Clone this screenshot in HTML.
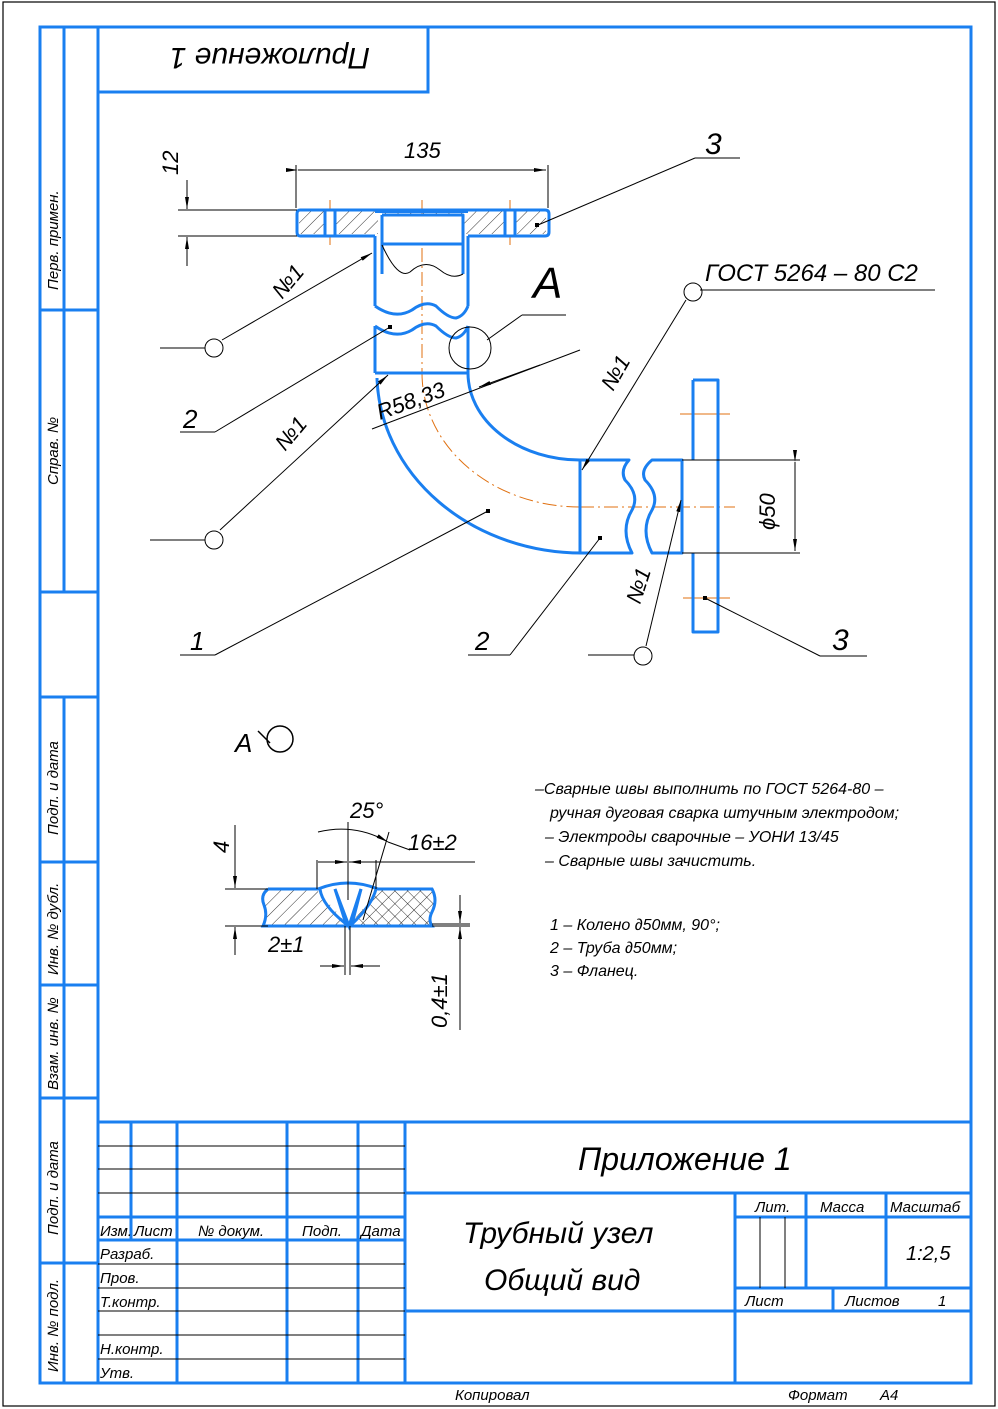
<!DOCTYPE html>
<html><head><meta charset="utf-8"><style>
html,body{margin:0;padding:0;background:#fff;}
svg{display:block;}
text{font-family:"Liberation Sans",sans-serif;font-style:italic;fill:#000;}
</style></head><body>
<svg width="998" height="1409" viewBox="0 0 998 1409" xmlns="http://www.w3.org/2000/svg">
<defs>
<pattern id="h" width="9" height="9" patternUnits="userSpaceOnUse" patternTransform="rotate(45)"><line x1="0" y1="0" x2="0" y2="9" stroke="#000" stroke-width="0.8"/></pattern>
<pattern id="h2" width="9" height="9" patternUnits="userSpaceOnUse" patternTransform="rotate(-45)"><line x1="0" y1="0" x2="0" y2="9" stroke="#000" stroke-width="0.8"/></pattern>
<marker id="ar" viewBox="0 0 12 6" refX="12" refY="3" markerWidth="12" markerHeight="6" orient="auto" markerUnits="userSpaceOnUse"><path d="M0,1 L12,3 L0,5 z" fill="#000"/></marker>
</defs>
<rect x="3" y="2" width="992" height="1404" fill="none" stroke="#000" stroke-width="1.2"/>
<g stroke="#1a7ff0" stroke-width="3" fill="none">
<rect x="40" y="27" width="931" height="1356"/>
<rect x="98" y="27" width="330" height="65"/>
<line x1="98" y1="27" x2="98" y2="1383"/>
<line x1="64" y1="27" x2="64" y2="592"/>
<line x1="40" y1="310" x2="98" y2="310"/>
<line x1="40" y1="592" x2="98" y2="592"/>
<line x1="40" y1="697" x2="98" y2="697"/>
<line x1="64" y1="697" x2="64" y2="1383"/>
<line x1="40" y1="862" x2="98" y2="862"/>
<line x1="40" y1="985" x2="98" y2="985"/>
<line x1="40" y1="1098" x2="98" y2="1098"/>
<line x1="40" y1="1263" x2="98" y2="1263"/>
<line x1="98" y1="1122" x2="971" y2="1122"/>
<line x1="131" y1="1122" x2="131" y2="1240"/>
<line x1="177" y1="1122" x2="177" y2="1383"/>
<line x1="287" y1="1122" x2="287" y2="1383"/>
<line x1="358" y1="1122" x2="358" y2="1383"/>
<line x1="405" y1="1122" x2="405" y2="1383"/>
<line x1="98" y1="1217" x2="405" y2="1217"/>
<line x1="98" y1="1240" x2="405" y2="1240"/>
<line x1="405" y1="1193" x2="971" y2="1193"/>
<line x1="405" y1="1311" x2="971" y2="1311"/>
<line x1="735" y1="1193" x2="735" y2="1383"/>
<line x1="735" y1="1217" x2="971" y2="1217"/>
<line x1="735" y1="1288" x2="971" y2="1288"/>
<line x1="806" y1="1193" x2="806" y2="1288"/>
<line x1="886" y1="1193" x2="886" y2="1288"/>
<line x1="833" y1="1288" x2="833" y2="1311"/>
</g>
<g stroke="#000" stroke-width="1">
<line x1="98" y1="1146" x2="405" y2="1146"/>
<line x1="98" y1="1169" x2="405" y2="1169"/>
<line x1="98" y1="1193" x2="405" y2="1193"/>
<line x1="98" y1="1264" x2="405" y2="1264"/>
<line x1="98" y1="1288" x2="405" y2="1288"/>
<line x1="98" y1="1311" x2="405" y2="1311"/>
<line x1="98" y1="1335" x2="405" y2="1335"/>
<line x1="98" y1="1359" x2="405" y2="1359"/>
<line x1="760" y1="1217" x2="760" y2="1288"/>
<line x1="785" y1="1217" x2="785" y2="1288"/>
</g>
<g font-size="15">
<text x="100" y="1236">Изм.</text><text x="134" y="1236">Лист</text><text x="198" y="1236">№ докум.</text><text x="302" y="1236">Подп.</text><text x="361" y="1236">Дата</text>
<text x="100" y="1259">Разраб.</text><text x="100" y="1283">Пров.</text><text x="100" y="1307">Т.контр.</text>
<text x="100" y="1354">Н.контр.</text><text x="100" y="1378">Утв.</text>
<text x="755" y="1212">Лит.</text><text x="820" y="1212">Масса</text><text x="890" y="1212">Масштаб</text>
<text x="745" y="1306">Лист</text><text x="845" y="1306">Листов</text><text x="938" y="1306">1</text>
<text x="455" y="1400">Копировал</text><text x="788" y="1400">Формат</text><text x="880" y="1400">А4</text>
</g>
<text x="906" y="1260" font-size="20">1:2,5</text>
<text x="578" y="1170" font-size="32">Приложение 1</text>
<text x="463" y="1243" font-size="30">Трубный узел</text>
<text x="484" y="1290" font-size="30">Общий вид</text>
<text x="0" y="0" font-size="30" transform="translate(370,48) rotate(180)">Приложение 1</text>
<g font-size="15">
<text transform="translate(58,290) rotate(-90)">Перв. примен.</text>
<text transform="translate(58,485) rotate(-90)">Справ. №</text>
<text transform="translate(58,835) rotate(-90)">Подп. и дата</text>
<text transform="translate(58,975) rotate(-90)">Инв. № дубл.</text>
<text transform="translate(58,1090) rotate(-90)">Взам. инв. №</text>
<text transform="translate(58,1235) rotate(-90)">Подп. и дата</text>
<text transform="translate(58,1372) rotate(-90)">Инв. № подл.</text>
</g>

<g stroke="#e07010" stroke-width="1" fill="none" stroke-dasharray="14,4,2,4">
<line x1="422" y1="200" x2="422" y2="373"/>
<path d="M422,373 A158,134 0 0 0 580,507"/>
<line x1="580" y1="507" x2="735" y2="507"/>
<line x1="330" y1="200" x2="330" y2="245" stroke-dasharray="none"/>
<line x1="510" y1="200" x2="510" y2="245" stroke-dasharray="none"/>
<line x1="680" y1="414" x2="730" y2="414" stroke-dasharray="none"/>
<line x1="683" y1="598" x2="730" y2="598" stroke-dasharray="none"/>
</g>
<path d="M299,210 H546 V234 H463 V245 H381 V234 H299 Z" fill="url(#h)" stroke="none"/>
<rect x="378" y="215" width="86" height="30" fill="#fff"/>
<rect x="325" y="210" width="10" height="26" fill="#fff"/>
<rect x="505" y="210" width="10" height="26" fill="#fff"/>
<g stroke="#1a7ff0" stroke-width="3" fill="none" stroke-linejoin="round">
<path d="M300,210 H545 Q549,210 549,214 V232 Q549,236 545,236 H468 M375,236 H300 Q297,236 297,232 V214 Q297,210 300,210"/>
<line x1="325" y1="210" x2="325" y2="236"/><line x1="335" y1="210" x2="335" y2="236"/>
<line x1="505" y1="210" x2="505" y2="236"/><line x1="515" y1="210" x2="515" y2="236"/>
<line x1="375" y1="212" x2="468" y2="212" stroke-width="2"/>
<path d="M382,215 H463 V274 M382,215 V274"/>
<line x1="382" y1="244" x2="463" y2="244"/>
<path d="M375,236 V306 M468,236 V306"/>
<path d="M375,306 Q395,320 412,310 Q425,300 436,306 Q448,318 456,318 Q464,316 468,306"/>
<path d="M375,326 V373 M468,326 V373"/>
<path d="M375,326 Q395,340 412,330 Q425,320 436,326 Q448,338 456,338 Q464,336 468,326"/>
<line x1="375" y1="373" x2="468" y2="373"/>
<path d="M377,378 A205,180 0 0 0 582,553"/>
<path d="M468,373 A112,87 0 0 0 580,460"/>
<path d="M580,460 H629 Q620,470 625,480 Q640,495 632,510 Q620,530 632,553 H580 Z"/>
<path d="M682,460 H652 Q640,470 645,480 Q660,495 652,510 Q640,530 652,553 H682 Z"/>
<path d="M693,380 H718 V632 H693 V553 M693,460 V380"/>
</g>
<path d="M382,245 Q398,280 410,272 Q425,258 440,270 Q452,280 463,274" stroke="#000" stroke-width="1" fill="none"/>
<g stroke="#000" stroke-width="1" fill="none">
<line x1="296" y1="165" x2="296" y2="208"/><line x1="548" y1="165" x2="548" y2="208"/>
<line x1="298" y1="170" x2="546" y2="170" marker-start="url(#ar)" marker-end="url(#ar)"/>
<line x1="178" y1="210" x2="297" y2="210"/><line x1="178" y1="236" x2="297" y2="236"/>
<line x1="187" y1="180" x2="187" y2="209" marker-end="url(#ar)"/>
<line x1="187" y1="266" x2="187" y2="237" marker-end="url(#ar)"/>
<line x1="682" y1="460" x2="800" y2="460"/><line x1="682" y1="553" x2="800" y2="553"/>
<line x1="795" y1="462" x2="795" y2="551" marker-start="url(#ar)" marker-end="url(#ar)"/>
<line x1="372" y1="429" x2="580" y2="350"/>
<line x1="540" y1="365" x2="479" y2="387" marker-end="url(#ar)"/>
<line x1="740" y1="158" x2="695" y2="158"/><line x1="695" y1="158" x2="538" y2="225"/>
<line x1="160" y1="348" x2="205" y2="348"/><line x1="222" y1="340" x2="372" y2="253" marker-end="url(#ar)"/>
<line x1="180" y1="432" x2="215" y2="432"/><line x1="215" y1="432" x2="390" y2="327"/>
<line x1="150" y1="540" x2="205" y2="540"/><line x1="220" y1="530" x2="388" y2="375" marker-end="url(#ar)"/>
<line x1="180" y1="655" x2="215" y2="655"/><line x1="215" y1="655" x2="488" y2="511"/>
<line x1="468" y1="655" x2="510" y2="655"/><line x1="510" y1="655" x2="600" y2="538"/>
<line x1="588" y1="655" x2="634" y2="655"/><line x1="646" y1="646" x2="681" y2="500" marker-end="url(#ar)"/>
<line x1="700" y1="290" x2="935" y2="290"/><line x1="686" y1="300" x2="582" y2="470" marker-end="url(#ar)"/>
<line x1="705" y1="598" x2="820" y2="656"/><line x1="820" y1="656" x2="867" y2="656"/>
<line x1="487" y1="340" x2="522" y2="315"/><line x1="522" y1="315" x2="566" y2="315"/>
<circle cx="214" cy="348" r="9"/><circle cx="214" cy="540" r="9"/><circle cx="693" cy="292" r="9"/><circle cx="643" cy="656" r="9"/>
<circle cx="470" cy="348" r="21"/>
</g>
<g fill="#000"><rect x="535" y="223" width="4" height="4"/><rect x="388" y="325" width="4" height="4"/><rect x="486" y="509" width="4" height="4"/><rect x="598" y="536" width="4" height="4"/><rect x="703" y="596" width="4" height="4"/></g>
<g font-size="22">
<text x="404" y="158">135</text>
<text transform="translate(178,175) rotate(-90)">12</text>
<text x="705" y="154" font-size="30">3</text>
<text x="533" y="298" font-size="44" font-style="normal">A</text>
<text x="705" y="281" font-size="24">ГОСТ 5264 – 80 С2</text>
<text transform="translate(282,300) rotate(-50)">№1</text>
<text transform="translate(285,452) rotate(-50)">№1</text>
<text transform="translate(613,392) rotate(-60)">№1</text>
<text transform="translate(640,605) rotate(-72)">№1</text>
<text transform="translate(380,420) rotate(-20)">R58,33</text>
<text transform="translate(775,530) rotate(-90)">ϕ50</text>
<text x="183" y="428" font-size="26">2</text>
<text x="190" y="650" font-size="26">1</text>
<text x="475" y="650" font-size="26">2</text>
<text x="832" y="650" font-size="30">3</text>
</g>

<text x="235" y="752" font-size="26" font-style="normal">A</text>
<circle cx="280" cy="739" r="13" stroke="#000" stroke-width="1.5" fill="none"/>
<line x1="258" y1="731" x2="270" y2="743" stroke="#000" stroke-width="1.5"/>
<path d="M268,890 H432 Q438,900 432,912 Q428,920 432,926 H263 Q268,915 264,905 Q260,895 268,890 Z" fill="url(#h)" stroke="none"/>
<path d="M348,890 H432 Q438,900 432,912 Q428,920 432,926 H348 Z" fill="url(#h2)" stroke="none"/>
<path d="M317,890 Q348,875 378,890 L349,926 Z" fill="#fff"/>
<g stroke="#1a7ff0" stroke-width="3" fill="none">
<path d="M268,889 H318 Q348,877 378,889 H432 Q438,900 432,912 Q428,920 432,926 H263 Q268,915 264,905 Q260,895 268,889"/>
<path d="M320,889 Q322,905 346,924 L335,889 M376,889 Q372,905 352,924 L361,889"/>
<path d="M335,889 L349,926 L361,889"/>
</g>
<g stroke="#000" stroke-width="1" fill="none">
<line x1="225" y1="889" x2="268" y2="889"/><line x1="225" y1="926" x2="268" y2="926"/>
<line x1="432" y1="926" x2="470" y2="926"/><line x1="432" y1="924" x2="470" y2="924"/>
<line x1="235" y1="825" x2="235" y2="888" marker-end="url(#ar)"/>
<line x1="235" y1="955" x2="235" y2="927" marker-end="url(#ar)"/>
<line x1="317" y1="860" x2="317" y2="889"/><line x1="376" y1="860" x2="376" y2="889"/>
<line x1="318" y1="862" x2="347" y2="862" marker-end="url(#ar)"/>
<line x1="475" y1="862" x2="349" y2="862" marker-end="url(#ar)"/>
<line x1="348" y1="822" x2="348" y2="900"/>
<path d="M318,832 Q355,823 388,842" marker-end="url(#ar)"/>
<line x1="410" y1="850" x2="388" y2="842"/>
<line x1="363" y1="920" x2="389" y2="832"/>
<line x1="345" y1="926" x2="345" y2="975"/><line x1="350" y1="926" x2="350" y2="975"/>
<line x1="320" y1="966" x2="344" y2="966" marker-end="url(#ar)"/>
<line x1="380" y1="966" x2="351" y2="966" marker-end="url(#ar)"/>
<line x1="460" y1="895" x2="460" y2="923" marker-end="url(#ar)"/>
<line x1="460" y1="1030" x2="460" y2="927" marker-end="url(#ar)"/>
</g>
<g font-size="22">
<text x="350" y="818">25°</text>
<text x="408" y="850">16±2</text>
<text transform="translate(229,853) rotate(-90)">4</text>
<text x="268" y="952">2±1</text>
<text transform="translate(447,1028) rotate(-90)">0,4±1</text>
</g>
<g font-size="16">
<text x="535" y="794">–Сварные швы выполнить по ГОСТ 5264-80 –</text>
<text x="550" y="818">ручная дуговая сварка штучным электродом;</text>
<text x="545" y="842">– Электроды сварочные –   УОНИ 13/45</text>
<text x="545" y="866">– Сварные швы зачистить.</text>
<text x="550" y="930">1 – Колено ∂50мм, 90°;</text>
<text x="550" y="953">2 – Труба ∂50мм;</text>
<text x="550" y="976">3 – Фланец.</text>
</g>
</svg>
</body></html>
